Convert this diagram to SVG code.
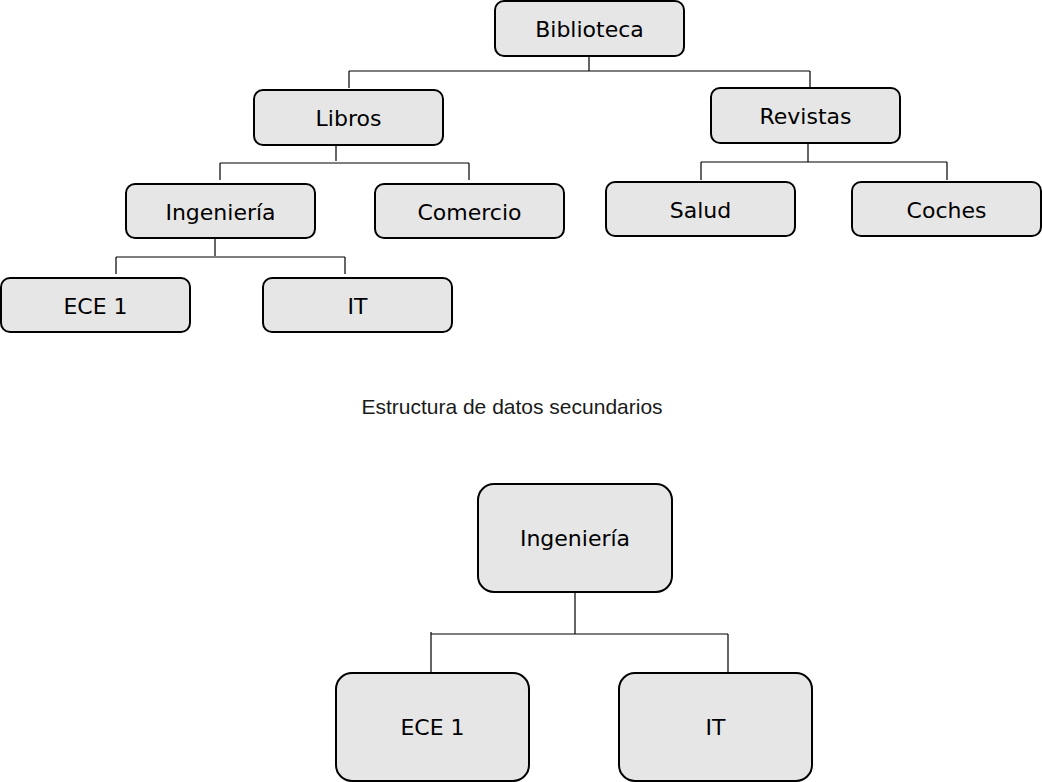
<svg xmlns="http://www.w3.org/2000/svg" width="1042" height="782" viewBox="0 0 1042 782">
<style>
.n rect{fill:#e6e6e6;stroke:#000;stroke-width:2}
.n text{font-family:"DejaVu Sans",Verdana,sans-serif;font-size:22px;text-anchor:middle;dominant-baseline:central;fill:#000}
.c path{fill:none;stroke:#000;stroke-width:1.2}
</style>
<rect width="1042" height="782" fill="#fff"/>
<g class="c">
<path d="M589 56V71M349 71H810M349 71V88M810 71V88"/>
<path d="M336 145V161M220 163H469M220 163V180M469 163V180"/>
<path d="M808 143V162M701 162H947M701 162V180M947 162V180"/>
<path d="M215 238V256M116 257H345M116 257V274M345 257V274"/>
<path d="M575 592V634M431 634H728M431 632V672M728 634V676"/>
</g>
<g id="biblioteca" class="n"><rect x="495" y="1" width="189" height="55" rx="9"/><text x="589.5" y="29">Biblioteca</text></g>
<g id="libros" class="n"><rect x="254" y="90" width="189" height="55" rx="9"/><text x="348.5" y="118">Libros</text></g>
<g id="revistas" class="n"><rect x="711" y="88" width="189" height="55" rx="9"/><text x="805.5" y="116">Revistas</text></g>
<g id="ingenieria" class="n"><rect x="126" y="184" width="189" height="54" rx="9"/><text x="220.5" y="212">Ingeniería</text></g>
<g id="comercio" class="n"><rect x="375" y="184" width="189" height="54" rx="9"/><text x="469.5" y="212">Comercio</text></g>
<g id="salud" class="n"><rect x="606" y="182" width="189" height="54" rx="9"/><text x="700.5" y="210">Salud</text></g>
<g id="coches" class="n"><rect x="852" y="182" width="189" height="54" rx="9"/><text x="946.5" y="210">Coches</text></g>
<g id="ece1" class="n"><rect x="1" y="278" width="189" height="54" rx="9"/><text x="95.5" y="306">ECE 1</text></g>
<g id="it" class="n"><rect x="263" y="278" width="189" height="54" rx="9"/><text x="357.5" y="306">IT</text></g>
<text x="512" y="406" font-family="Liberation Sans,Arial,sans-serif" font-size="21" text-anchor="middle" dominant-baseline="central" fill="#1a1a1a">Estructura de datos secundarios</text>
<g id="ingenieria2" class="n"><rect x="478" y="484" width="194" height="108" rx="16"/><text x="575" y="538">Ingeniería</text></g>
<g id="ece1b" class="n"><rect x="336" y="673" width="193" height="108" rx="16"/><text x="432.5" y="727">ECE 1</text></g>
<g id="itb" class="n"><rect x="619" y="673" width="193" height="108" rx="16"/><text x="715.5" y="727">IT</text></g>
</svg>
